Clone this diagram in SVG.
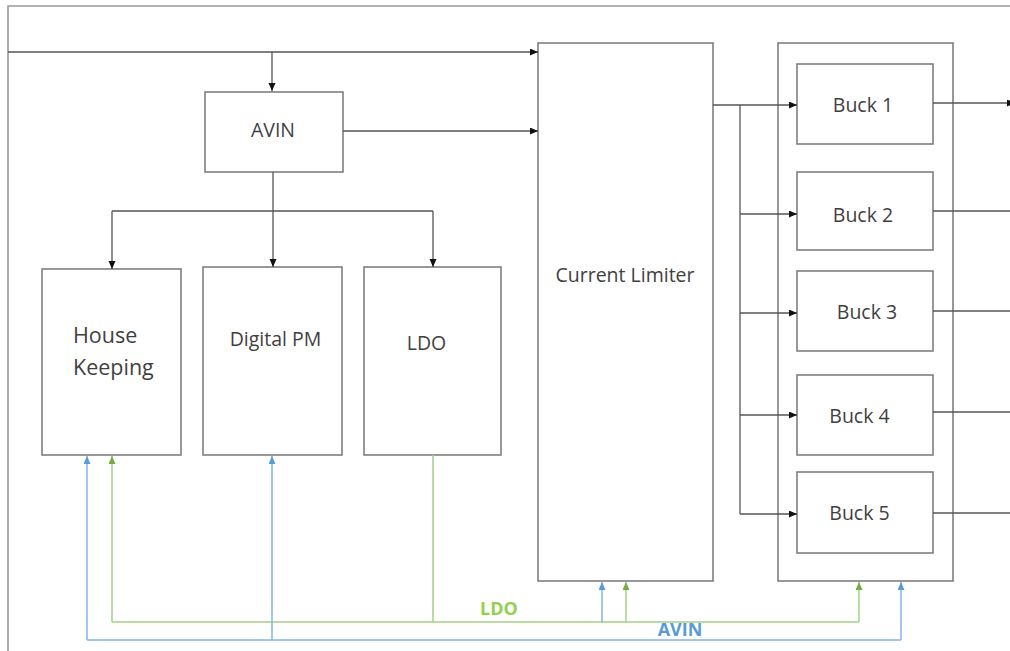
<svg xmlns="http://www.w3.org/2000/svg" width="1010" height="651" viewBox="0 0 1010 651">
<style>
.box{fill:#fff;stroke:#7f7f7f;stroke-width:1.6}
.frame{fill:none;stroke:#999;stroke-width:1.6}
.lbl{font-family:"Open Sans",sans-serif;font-size:19.5px;fill:#3f3f3f;text-anchor:middle}
.c{fill:none;stroke:#555;stroke-width:1.3}
.g{fill:none;stroke:#a3cf85;stroke-width:1.5}
.b{fill:none;stroke:#86b3e0;stroke-width:1.5}
.tg{font-family:"Open Sans",sans-serif;font-size:18px;font-weight:bold;fill:#92d050;text-anchor:middle}
.tb{font-family:"Open Sans",sans-serif;font-size:18px;font-weight:bold;fill:#5b9bd5;text-anchor:middle}
</style>
<defs>
<marker id="ak" markerUnits="userSpaceOnUse" markerWidth="9" markerHeight="8" refX="8" refY="3.5" orient="auto"><path d="M0,0 L8,3.5 L0,7 z" fill="#111"/></marker>
<marker id="ag" markerUnits="userSpaceOnUse" markerWidth="9" markerHeight="8" refX="8" refY="3.5" orient="auto"><path d="M0,0 L8,3.5 L0,7 z" fill="#70ad47"/></marker>
<marker id="ab" markerUnits="userSpaceOnUse" markerWidth="9" markerHeight="8" refX="8" refY="3.5" orient="auto"><path d="M0,0 L8,3.5 L0,7 z" fill="#5b9bd5"/></marker>
</defs>
<rect width="1010" height="651" fill="#fff"/>
<path class="frame" d="M1012,6 H8 V653"/>

<g id="avin"><rect class="box" x="205" y="92" width="138" height="80"/><text class="lbl" x="273" y="137">AVIN</text></g>
<g id="current-limiter"><rect class="box" x="538" y="43" width="175" height="538"/><text class="lbl" x="625" y="282">Current Limiter</text></g>
<g id="house-keeping"><rect class="box" x="42" y="269" width="139" height="186"/><text class="lbl" style="font-size:21.5px;text-anchor:start" x="73" y="343">House</text><text class="lbl" style="font-size:21.5px;text-anchor:start" x="73" y="375">Keeping</text></g>
<g id="digital-pm"><rect class="box" x="203" y="267" width="139" height="188"/><text class="lbl" x="275.5" y="346">Digital PM</text></g>
<g id="ldo"><rect class="box" x="364" y="267" width="137" height="188"/><text class="lbl" x="426.5" y="350">LDO</text></g>
<g id="buck-group"><rect class="box" x="778" y="43" width="175" height="538"/></g>
<g id="buck1"><rect class="box" x="797" y="64" width="136" height="80"/><text class="lbl" x="863" y="112">Buck 1</text></g>
<g id="buck2"><rect class="box" x="797" y="172" width="136" height="78"/><text class="lbl" x="863" y="222">Buck 2</text></g>
<g id="buck3"><rect class="box" x="797" y="271" width="136" height="80"/><text class="lbl" x="867" y="319">Buck 3</text></g>
<g id="buck4"><rect class="box" x="797" y="375" width="136" height="80"/><text class="lbl" x="859.5" y="423">Buck 4</text></g>
<g id="buck5"><rect class="box" x="797" y="472" width="136" height="81"/><text class="lbl" x="859.5" y="520">Buck 5</text></g>

<g id="connectors">
<path class="c" d="M8,52 H538" marker-end="url(#ak)"/>
<path class="c" d="M272,52 V91" marker-end="url(#ak)"/>
<path class="c" d="M343,131 H538" marker-end="url(#ak)"/>
<path class="c" d="M273,172 V267" marker-end="url(#ak)"/>
<path class="c" d="M112,211 H433"/>
<path class="c" d="M112,211 V269" marker-end="url(#ak)"/>
<path class="c" d="M433,211 V267" marker-end="url(#ak)"/>
<path class="c" d="M713,105 H797" marker-end="url(#ak)"/>
<path class="c" d="M740,105 V514"/>
<path class="c" d="M740,214 H797" marker-end="url(#ak)"/>
<path class="c" d="M740,313 H797" marker-end="url(#ak)"/>
<path class="c" d="M740,415 H797" marker-end="url(#ak)"/>
<path class="c" d="M740,514 H797" marker-end="url(#ak)"/>
<path class="c" d="M933,103 H1015" marker-end="url(#ak)"/>
<path class="c" d="M933,211 H1018" marker-end="url(#ak)"/>
<path class="c" d="M933,311 H1018" marker-end="url(#ak)"/>
<path class="c" d="M933,412 H1018" marker-end="url(#ak)"/>
<path class="c" d="M933,513 H1018" marker-end="url(#ak)"/>

<path class="g" d="M433,455 V622"/>
<path class="g" d="M112,622 H859"/>
<path class="g" d="M112,622 V456" marker-end="url(#ag)"/>
<path class="g" d="M626,622 V582" marker-end="url(#ag)"/>
<path class="g" d="M859,622 V582" marker-end="url(#ag)"/>

<path class="b" d="M87,640 H901"/>
<path class="b" d="M87,640 V456" marker-end="url(#ab)"/>
<path class="b" d="M272,640 V456" marker-end="url(#ab)"/>
<path class="b" d="M901,640 V582" marker-end="url(#ab)"/>
<path class="b" d="M602,622 V582" marker-end="url(#ab)"/>
</g>
<text class="tg" x="499" y="615">LDO</text>
<text class="tb" x="680" y="636">AVIN</text>
</svg>
